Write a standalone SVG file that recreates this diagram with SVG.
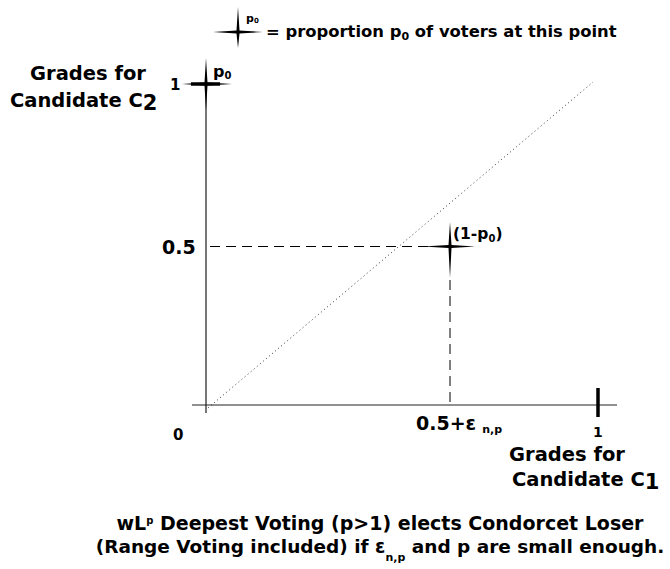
<svg xmlns="http://www.w3.org/2000/svg" width="670" height="569" viewBox="0 0 670 569">
<style>
text{font-family:"DejaVu Sans","Liberation Sans",sans-serif;font-weight:bold;fill:#000}
.star{fill:#000;stroke:none}
.dash{stroke:#000;stroke-width:1;fill:none;stroke-dasharray:10,6}
</style>
<rect width="670" height="569" fill="#fff"/>
<g id="axes">
<line x1="206" y1="84" x2="206" y2="413" stroke="#777" stroke-width="2"/>
<line x1="192" y1="405" x2="617" y2="405" stroke="#222" stroke-width="1.2"/>
<line x1="598" y1="388" x2="598" y2="417" stroke="#000" stroke-width="3.5"/>
<line x1="191" y1="84" x2="220" y2="84" stroke="#000" stroke-width="3.5"/>
</g>
<g id="connectors">
<line x1="208" y1="408" x2="593" y2="82" stroke="#333" stroke-width="1" stroke-dasharray="1,3"/>
<line class="dash" x1="210" y1="246.5" x2="440" y2="246.5"/>
<line class="dash" x1="450" y1="280" x2="450" y2="405"/>
</g>
<g id="legend">
<path class="star" d="M213,32 L236.5,30.5 L238,7 L239.5,30.5 L263,32 L239.5,33.5 L238,48 L236.5,33.5 Z"/>
<text x="246" y="22" font-size="11">p<tspan font-size="7" dy="1">0</tspan></text>
<text x="266" y="37" font-size="16.4">= proportion p<tspan font-size="11" dy="3">0</tspan><tspan dy="-3"> of voters at this point</tspan></text>
</g>
<g id="point-top">
<path class="star" d="M182,84 L204.5,82.5 L206,58 L207.5,82.5 L232,84 L207.5,85.5 L206,110 L204.5,85.5 Z"/>
<text x="213" y="77" font-size="16">p<tspan font-size="10" dy="2">0</tspan></text>
<text x="170" y="90" font-size="15">1</text>
</g>
<g id="point-mid">
<path class="star" d="M423,246.5 L448.5,245 L450,222 L451.5,245 L475,246.5 L451.5,248 L450,278 L448.5,248 Z"/>
<text x="453" y="239" font-size="15.5">(1-p<tspan font-size="10" dy="3">0</tspan><tspan dy="-3">)</tspan></text>
</g>
<g id="labels">
<text x="88" y="80" font-size="19.5" text-anchor="middle">Grades for</text>
<text x="10" y="107" font-size="19.5">Candidate C<tspan font-size="21" dy="3">2</tspan></text>
<text x="162" y="254" font-size="19">0.5</text>
<text x="173" y="440" font-size="15">0</text>
<text x="416" y="430" font-size="19">0.5+ε<tspan font-size="11" dx="6" dy="3">n,p</tspan></text>
<text x="593" y="437" font-size="14">1</text>
<text x="567" y="461" font-size="19.5" text-anchor="middle">Grades for</text>
<text x="512" y="486" font-size="19.5">Candidate C<tspan font-size="21" dy="3">1</tspan></text>
</g>
<g id="caption">
<text x="380" y="530" font-size="19" text-anchor="middle">wL<tspan font-size="10" dy="-6">p</tspan><tspan dy="6"> Deepest Voting (p&gt;1) elects Condorcet Loser</tspan></text>
<text x="380" y="553" font-size="18.5" text-anchor="middle">(Range Voting included) if ε<tspan font-size="11" dy="8">n,p</tspan><tspan dy="-8"> and p are small enough.</tspan></text>
</g>
</svg>
